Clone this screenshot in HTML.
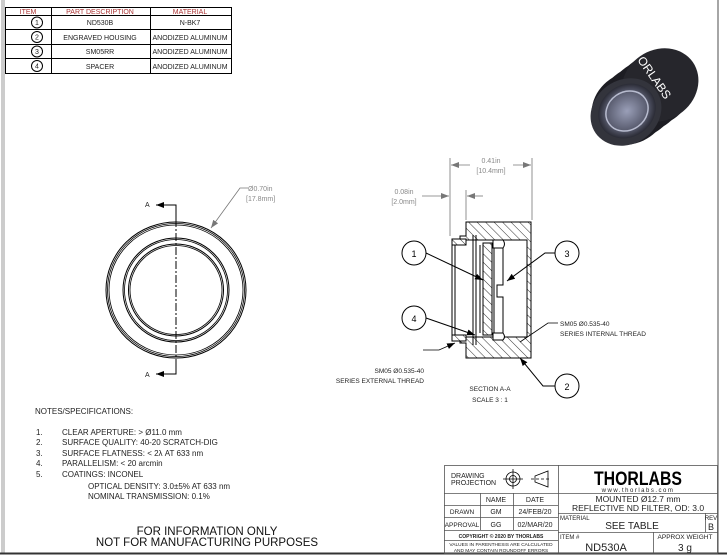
<!DOCTYPE html>
<html><head><meta charset="utf-8"><style>
html,body{margin:0;padding:0;background:#fff;}
svg{display:block;font-family:"Liberation Sans",sans-serif;}
</style></head><body>
<svg width="727" height="556" viewBox="0 0 727 556" xmlns="http://www.w3.org/2000/svg">
<defs>
<pattern id="h" width="6" height="6" patternUnits="userSpaceOnUse" patternTransform="rotate(-45)">
<rect width="6" height="6" fill="#fff"/><line x1="0" y1="0" x2="0" y2="6" stroke="#000" stroke-width="0.8"/>
</pattern>
<marker id="ar" markerWidth="8" markerHeight="6" refX="8" refY="3" orient="auto" markerUnits="userSpaceOnUse"><path d="M0,0 L8,3 L0,6z" fill="#000"/></marker>
<marker id="arg" markerWidth="8" markerHeight="6" refX="8" refY="3" orient="auto" markerUnits="userSpaceOnUse"><path d="M0,0 L8,3 L0,6z" fill="#777"/></marker>
<radialGradient id="cap" cx="0.5" cy="0.5" r="0.5"><stop offset="0" stop-color="#9a9fb8"/><stop offset="0.7" stop-color="#5a5d70"/><stop offset="1" stop-color="#2a2b35"/></radialGradient>
</defs>
<!-- frame -->
<line x1="2" y1="0" x2="2" y2="553" stroke="#999" stroke-width="1"/>
<line x1="4" y1="0" x2="4" y2="553" stroke="#999" stroke-width="1"/>
<line x1="718" y1="0" x2="718" y2="553" stroke="#888" stroke-width="1.5"/>
<line x1="0" y1="553.5" x2="727" y2="553.5" stroke="#333" stroke-width="2"/>

<!-- BOM table -->
<g stroke="#000" stroke-width="1" fill="none">
<rect x="5.5" y="7.5" width="226" height="66"/>
<line x1="5" y1="15.5" x2="231" y2="15.5"/>
<line x1="5" y1="29.5" x2="231" y2="29.5"/>
<line x1="5" y1="44.5" x2="231" y2="44.5"/>
<line x1="5" y1="58.5" x2="231" y2="58.5"/>
<line x1="51.5" y1="7" x2="51.5" y2="73"/>
<line x1="150.5" y1="7" x2="150.5" y2="73"/>
<circle cx="37" cy="22.5" r="5.5"/><circle cx="37" cy="37" r="5.5"/><circle cx="37" cy="51.5" r="5.5"/><circle cx="37" cy="66" r="5.5"/>
</g>
<g font-size="7" text-anchor="middle" fill="#222">
<text x="28" y="14" fill="#a33">ITEM</text><text x="100" y="14" fill="#a33">PART DESCRIPTION</text><text x="190" y="14" fill="#a33">MATERIAL</text>
<text x="37" y="25">1</text><text x="37" y="39.5">2</text><text x="37" y="54">3</text><text x="37" y="68.5">4</text>
<text x="100" y="25">ND530B</text><text x="190" y="25">N-BK7</text>
<text x="100" y="40">ENGRAVED HOUSING</text><text x="190" y="40">ANODIZED ALUMINUM</text>
<text x="100" y="54">SM05RR</text><text x="190" y="54">ANODIZED ALUMINUM</text>
<text x="100" y="69">SPACER</text><text x="190" y="69">ANODIZED ALUMINUM</text>
</g>

<!-- front view -->
<g fill="none" stroke="#000">
<ellipse cx="176" cy="290" rx="70" ry="68" stroke-width="1"/><ellipse cx="176" cy="290" rx="68.5" ry="66.5" stroke-width="0.8"/><ellipse cx="176" cy="290" rx="67" ry="65" stroke-width="0.8"/>
<ellipse cx="176" cy="290" rx="53" ry="52" stroke-width="1"/><ellipse cx="176" cy="290" rx="51.5" ry="50.5" stroke-width="0.8"/>
<ellipse cx="176" cy="290" rx="47.5" ry="46" stroke-width="1"/><ellipse cx="176" cy="290" rx="46" ry="44.5" stroke-width="0.8"/>
<line x1="176" y1="205" x2="176" y2="374" stroke-dasharray="8,2,2,2" stroke-width="1"/>
<polyline points="176,220 176,205 156,205" stroke-width="1" marker-end="url(#ar)"/>
<polyline points="176,360 176,374 156,374" stroke-width="1" marker-end="url(#ar)"/>
<polyline points="248,188 240,188 211,228" stroke="#777" stroke-width="0.8" marker-end="url(#arg)"/>
</g>
<g font-size="7" fill="#222"><text x="145" y="207">A</text><text x="145" y="377">A</text></g>
<g font-size="7" fill="#888"><text x="248" y="191">Ø0.70in</text><text x="246" y="201">[17.8mm]</text></g>

<!-- section view -->
<g stroke="#000" stroke-width="1">
<path d="M466,222 H531 V358 H466 V343 H460 V337 H527 V240 H460 V236 H466 Z" fill="url(#h)"/>
<rect x="452" y="239" width="14" height="6" fill="url(#h)"/>
<rect x="452" y="335" width="14" height="6" fill="url(#h)"/>
<rect x="483" y="243" width="9" height="92" fill="url(#h)"/>
<path d="M493,240 H503 Q506,244 503,248 H493 Z" fill="#fff"/>
<path d="M493,333 H503 Q506,337 503,340 H493 Z" fill="#fff"/>
<g fill="none">
<line x1="452" y1="245" x2="452" y2="335"/><line x1="455" y1="245" x2="455" y2="335"/>
<line x1="473" y1="235" x2="473" y2="345"/><line x1="476" y1="235" x2="476" y2="345"/>
<line x1="480" y1="245" x2="480" y2="333"/>
<polyline points="503,248 503,285 497,285 497,297 503,297 503,333"/>
<line x1="494" y1="248" x2="494" y2="333"/>
</g>
</g>
<!-- dimensions -->
<g stroke="#777" stroke-width="0.8" fill="none">
<line x1="450" y1="158" x2="450" y2="236"/><line x1="532" y1="158" x2="532" y2="220"/>
<line x1="470" y1="165" x2="451" y2="165" marker-end="url(#arg)"/><line x1="513" y1="165" x2="531" y2="165" marker-end="url(#arg)"/>
<line x1="466" y1="190" x2="466" y2="220"/>
<line x1="422" y1="196" x2="449" y2="196" marker-end="url(#arg)"/><line x1="483" y1="196" x2="467" y2="196" marker-end="url(#arg)"/>
</g>
<g font-size="7" fill="#888" text-anchor="middle"><text x="491" y="163">0.41in</text><text x="491" y="173">[10.4mm]</text><text x="404" y="194">0.08in</text><text x="404" y="204">[2.0mm]</text></g>
<!-- balloons -->
<g stroke="#000" stroke-width="1" fill="none">
<circle cx="414" cy="253" r="12"/><circle cx="567" cy="253" r="12"/><circle cx="414" cy="318" r="12"/><circle cx="567" cy="386" r="12"/>
<line x1="426" y1="253" x2="483" y2="280" marker-end="url(#ar)"/>
<polyline points="555,253 545,253 507,281" marker-end="url(#ar)"/>
<line x1="426" y1="318" x2="475" y2="335" marker-end="url(#ar)"/>
<polyline points="555,386 543,386 520,358" marker-end="url(#ar)"/>
<polyline points="558,323 548,323 520,342" stroke-width="0.8"/>
<polyline points="423,350 439,350 455,343" stroke-width="0.8" marker-end="url(#ar)"/>
</g>
<g font-size="9" text-anchor="middle" fill="#000"><text x="414" y="257">1</text><text x="567" y="257">3</text><text x="414" y="322">4</text><text x="567" y="390">2</text></g>
<g font-size="6.5" fill="#222">
<text x="560" y="326">SM05 Ø0.535-40</text><text x="560" y="336">SERIES INTERNAL THREAD</text>
<text x="424" y="373" text-anchor="end">SM05 Ø0.535-40</text><text x="424" y="383" text-anchor="end">SERIES EXTERNAL THREAD</text>
<text x="490" y="391" text-anchor="middle">SECTION A-A</text><text x="490" y="402" text-anchor="middle">SCALE 3 : 1</text>
</g>

<!-- photo -->
<g fill="#1d1d23">
<ellipse cx="630" cy="108" rx="40" ry="35" transform="rotate(-35 630 108)"/>
<ellipse cx="638" cy="102" rx="40" ry="35" transform="rotate(-35 638 102)"/>
<ellipse cx="646" cy="96" rx="40" ry="35" transform="rotate(-35 646 96)"/>
<ellipse cx="654" cy="90" rx="40" ry="35" transform="rotate(-35 654 90)"/>
<ellipse cx="660" cy="85" rx="40" ry="35" transform="rotate(-35 660 85)" fill="#26262c"/>
<ellipse cx="626" cy="112" rx="37" ry="32" transform="rotate(-35 626 112)" fill="#33343c"/>
<ellipse cx="627" cy="111" rx="30" ry="26" transform="rotate(-35 627 111)" fill="url(#cap)"/>
<ellipse cx="627" cy="111" rx="22" ry="19" transform="rotate(-35 627 111)" fill="none" stroke="#b8bccf" stroke-width="1.5"/>
<text x="637" y="60" font-size="12" fill="#fff" transform="rotate(55 637 60)">ORLABS</text>
</g>

<!-- notes -->
<g font-size="8" fill="#222">
<text x="35" y="414">NOTES/SPECIFICATIONS:</text>
<text x="36" y="435">1.</text><text x="62" y="435">CLEAR APERTURE: &gt; Ø11.0 mm</text>
<text x="36" y="445">2.</text><text x="62" y="445">SURFACE QUALITY: 40-20 SCRATCH-DIG</text>
<text x="36" y="456">3.</text><text x="62" y="456">SURFACE FLATNESS: &lt; 2λ AT 633 nm</text>
<text x="36" y="466">4.</text><text x="62" y="466">PARALLELISM: &lt; 20 arcmin</text>
<text x="36" y="477">5.</text><text x="62" y="477">COATINGS: INCONEL</text>
<text x="88" y="489">OPTICAL DENSITY: 3.0±5% AT 633 nm</text>
<text x="88" y="499">NOMINAL TRANSMISSION: 0.1%</text>
</g>
<g font-size="11.5" fill="#111" text-anchor="middle"><text x="207" y="535">FOR INFORMATION ONLY</text><text x="207" y="546">NOT FOR MANUFACTURING PURPOSES</text></g>

<!-- title block -->
<g stroke="#555" stroke-width="0.8" fill="none">
<rect x="444.5" y="465.5" width="273" height="88"/>
<line x1="558.5" y1="465" x2="558.5" y2="553"/>
<line x1="444" y1="493.5" x2="558" y2="493.5"/>
<line x1="444" y1="505.5" x2="558" y2="505.5"/>
<line x1="444" y1="517.5" x2="558" y2="517.5"/>
<line x1="444" y1="530.5" x2="558" y2="530.5"/>
<line x1="444" y1="540.5" x2="558" y2="540.5"/>
<line x1="480.5" y1="493" x2="480.5" y2="530"/>
<line x1="513.5" y1="493" x2="513.5" y2="530"/>
<line x1="558" y1="493.5" x2="718" y2="493.5"/>
<line x1="558" y1="513.5" x2="718" y2="513.5"/>
<line x1="558" y1="532.5" x2="718" y2="532.5"/>
<line x1="705.5" y1="513" x2="705.5" y2="532"/>
<line x1="653.5" y1="532" x2="653.5" y2="553"/>
<circle cx="513" cy="479" r="7" stroke="#000"/><circle cx="513" cy="479" r="3.5" stroke="#000"/>
<line x1="503" y1="479" x2="523" y2="479" stroke="#000"/><line x1="513" y1="469" x2="513" y2="489" stroke="#000"/>
<path d="M535,476 L548,471 L548,487 L535,482 Z" stroke="#000"/>
<line x1="531" y1="479" x2="551" y2="479" stroke="#000" stroke-dasharray="3,2"/>
</g>
<g fill="#222">
<text x="451" y="478" font-size="7">DRAWING</text><text x="451" y="485" font-size="7">PROJECTION</text>
<g font-size="7" text-anchor="middle">
<text x="496" y="502">NAME</text><text x="535" y="502">DATE</text>
<text x="462" y="514" font-size="6.5">DRAWN</text><text x="496" y="514">GM</text><text x="535" y="514">24/FEB/20</text>
<text x="462" y="527" font-size="6.5">APPROVAL</text><text x="496" y="527">GG</text><text x="535" y="527">02/MAR/20</text>
<text x="501" y="538" font-size="5" font-weight="bold">COPYRIGHT © 2020 BY THORLABS</text>
<text x="501" y="546" font-size="4.8">VALUES IN PARENTHESIS ARE CALCULATED</text>
<text x="501" y="552" font-size="4.8">AND MAY CONTAIN ROUNDOFF ERRORS</text>
</g>
<text x="638" y="485" font-size="19" font-weight="bold" text-anchor="middle" fill="#000" textLength="88" lengthAdjust="spacingAndGlyphs">THORLABS</text>
<text x="638" y="492" font-size="6" text-anchor="middle" letter-spacing="1.5">www.thorlabs.com</text>
<text x="638" y="502" font-size="8.5" text-anchor="middle">MOUNTED Ø12.7 mm</text>
<text x="638" y="511" font-size="8.5" text-anchor="middle">REFLECTIVE ND FILTER, OD: 3.0</text>
<text x="560" y="520" font-size="6">MATERIAL</text>
<text x="632" y="529" font-size="10" text-anchor="middle">SEE TABLE</text>
<text x="711" y="520" font-size="6" text-anchor="middle">REV</text><text x="711" y="530" font-size="9" text-anchor="middle">B</text>
<text x="560" y="539" font-size="6">ITEM #</text>
<text x="606" y="551" font-size="11" text-anchor="middle">ND530A</text>
<text x="685" y="539" font-size="6.5" text-anchor="middle">APPROX WEIGHT</text>
<text x="685" y="551" font-size="10" text-anchor="middle">3 g</text>
</g>
</svg>
</body></html>
